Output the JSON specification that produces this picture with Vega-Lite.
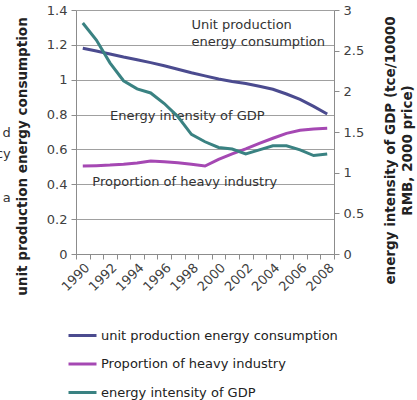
{
  "$schema": "https://vega.github.io/schema/vega-lite/v6.json",
  "width": 258,
  "height": 244,
  "autosize": {"type": "none"},
  "padding": {"left": 76, "top": 10, "right": 83, "bottom": 146},
  "background": "white",
  "config": {
    "view": {"stroke": null},
    "font": "DejaVu Sans",
    "axis": {"labelFont": "DejaVu Sans", "labelFontSize": 13, "labelColor": "#404040", "titleFont": "DejaVu Sans", "titleFontSize": 13.5, "titleFontWeight": "bold", "titleColor": "#222", "domainColor": "#8c8c8c", "tickColor": "#8c8c8c", "gridColor": "#a0a0a0", "tickSize": 5, "labelOverlap": false}
  },
  "datasets": {
    "series": [
      {"year": 1990, "series": "unit production energy consumption", "value": 1.18},
      {"year": 1991, "series": "unit production energy consumption", "value": 1.165},
      {"year": 1992, "series": "unit production energy consumption", "value": 1.148},
      {"year": 1993, "series": "unit production energy consumption", "value": 1.13},
      {"year": 1994, "series": "unit production energy consumption", "value": 1.115},
      {"year": 1995, "series": "unit production energy consumption", "value": 1.098},
      {"year": 1996, "series": "unit production energy consumption", "value": 1.08},
      {"year": 1997, "series": "unit production energy consumption", "value": 1.06},
      {"year": 1998, "series": "unit production energy consumption", "value": 1.04},
      {"year": 1999, "series": "unit production energy consumption", "value": 1.022},
      {"year": 2000, "series": "unit production energy consumption", "value": 1.004},
      {"year": 2001, "series": "unit production energy consumption", "value": 0.99},
      {"year": 2002, "series": "unit production energy consumption", "value": 0.978},
      {"year": 2003, "series": "unit production energy consumption", "value": 0.962},
      {"year": 2004, "series": "unit production energy consumption", "value": 0.945},
      {"year": 2005, "series": "unit production energy consumption", "value": 0.918},
      {"year": 2006, "series": "unit production energy consumption", "value": 0.887},
      {"year": 2007, "series": "unit production energy consumption", "value": 0.847},
      {"year": 2008, "series": "unit production energy consumption", "value": 0.803},
      {"year": 1990, "series": "Proportion of heavy industry", "value": 0.505},
      {"year": 1991, "series": "Proportion of heavy industry", "value": 0.507},
      {"year": 1992, "series": "Proportion of heavy industry", "value": 0.51},
      {"year": 1993, "series": "Proportion of heavy industry", "value": 0.515},
      {"year": 1994, "series": "Proportion of heavy industry", "value": 0.522},
      {"year": 1995, "series": "Proportion of heavy industry", "value": 0.533},
      {"year": 1996, "series": "Proportion of heavy industry", "value": 0.529},
      {"year": 1997, "series": "Proportion of heavy industry", "value": 0.523},
      {"year": 1998, "series": "Proportion of heavy industry", "value": 0.515},
      {"year": 1999, "series": "Proportion of heavy industry", "value": 0.505},
      {"year": 2000, "series": "Proportion of heavy industry", "value": 0.543},
      {"year": 2001, "series": "Proportion of heavy industry", "value": 0.574},
      {"year": 2002, "series": "Proportion of heavy industry", "value": 0.603},
      {"year": 2003, "series": "Proportion of heavy industry", "value": 0.635},
      {"year": 2004, "series": "Proportion of heavy industry", "value": 0.664},
      {"year": 2005, "series": "Proportion of heavy industry", "value": 0.692},
      {"year": 2006, "series": "Proportion of heavy industry", "value": 0.71},
      {"year": 2007, "series": "Proportion of heavy industry", "value": 0.717},
      {"year": 2008, "series": "Proportion of heavy industry", "value": 0.721},
      {"year": 1990, "series": "energy intensity of GDP", "value": 2.84},
      {"year": 1991, "series": "energy intensity of GDP", "value": 2.63},
      {"year": 1992, "series": "energy intensity of GDP", "value": 2.35},
      {"year": 1993, "series": "energy intensity of GDP", "value": 2.13},
      {"year": 1994, "series": "energy intensity of GDP", "value": 2.03},
      {"year": 1995, "series": "energy intensity of GDP", "value": 1.98},
      {"year": 1996, "series": "energy intensity of GDP", "value": 1.85},
      {"year": 1997, "series": "energy intensity of GDP", "value": 1.69},
      {"year": 1998, "series": "energy intensity of GDP", "value": 1.47},
      {"year": 1999, "series": "energy intensity of GDP", "value": 1.38},
      {"year": 2000, "series": "energy intensity of GDP", "value": 1.31},
      {"year": 2001, "series": "energy intensity of GDP", "value": 1.29},
      {"year": 2002, "series": "energy intensity of GDP", "value": 1.23},
      {"year": 2003, "series": "energy intensity of GDP", "value": 1.28},
      {"year": 2004, "series": "energy intensity of GDP", "value": 1.33},
      {"year": 2005, "series": "energy intensity of GDP", "value": 1.33},
      {"year": 2006, "series": "energy intensity of GDP", "value": 1.28},
      {"year": 2007, "series": "energy intensity of GDP", "value": 1.21},
      {"year": 2008, "series": "energy intensity of GDP", "value": 1.23}
    ],
    "notes": [
      {"year": 1998, "value": 1.314, "text": "Unit production"},
      {"year": 1998, "value": 1.216, "text": "energy consumption"},
      {"year": 1992, "value": 0.792, "text": "Energy intensity of GDP"}
    ],
    "notes2": [
      {"year": 1991, "value": 0.413, "text": "Proportion of heavy industry"}
    ],
    "fragments": [
      {"year": 1990, "value": 0.694, "text": "d"},
      {"year": 1990, "value": 0.574, "text": "cy"},
      {"year": 1990, "value": 0.321, "text": "a"}
    ]
  },
  "layer": [
    {
      "encoding": {
        "x": {"field": "year", "type": "ordinal", "bandPosition": 0.5, "scale": {"type": "band", "paddingInner": 0, "paddingOuter": 0},
          "axis": {"title": null, "tickBand": "extent", "labelAngle": -45, "labelExpr": "datum.value % 2 == 0 ? datum.label : ''", "grid": false, "labelPadding": 2}},
        "y": {"field": "value", "type": "quantitative", "scale": {"domain": [0, 1.4]},
          "axis": {"title": "unit production energy consumption", "values": [0, 0.2, 0.4, 0.6, 0.8, 1, 1.2, 1.4], "format": ".2~f", "grid": true, "labelPadding": 4, "titleY": 146, "titleX": -47}}
      },
      "layer": [
        {
          "data": {"name": "series"},
          "transform": [{"filter": "datum.series !== 'energy intensity of GDP'"}],
          "mark": {"type": "line", "strokeWidth": 3},
          "encoding": {
            "color": {"field": "series", "type": "nominal",
              "scale": {"domain": ["unit production energy consumption", "Proportion of heavy industry", "energy intensity of GDP"], "range": ["#4b4b8f", "#a548b3", "#3a8282"]},
              "legend": {"title": null, "orient": "none", "legendX": -9, "legendY": 310, "symbolType": "stroke", "symbolSize": 784, "symbolStrokeWidth": 3, "labelFont": "DejaVu Sans", "labelFontSize": 13, "labelColor": "#222", "labelOffset": 3, "rowPadding": 5.5, "labelLimit": 400}}
          }
        },
        {
          "data": {"name": "notes"},
          "mark": {"type": "text", "align": "left", "baseline": "middle", "fontSize": 13, "font": "DejaVu Sans", "color": "#333"},
          "encoding": {"text": {"field": "text"}}
        },
        {
          "data": {"name": "notes2"},
          "mark": {"type": "text", "align": "left", "baseline": "middle", "fontSize": 13, "font": "DejaVu Sans", "color": "#333", "dx": -4},
          "encoding": {"text": {"field": "text"}}
        },
        {
          "data": {"name": "fragments"},
          "mark": {"type": "text", "align": "right", "baseline": "middle", "fontSize": 13, "font": "DejaVu Sans", "color": "#333", "dx": -72},
          "encoding": {"text": {"field": "text"}}
        }
      ]
    },
    {
      "data": {"name": "series"},
      "transform": [{"filter": "datum.series === 'energy intensity of GDP'"}],
      "mark": {"type": "line", "strokeWidth": 3},
      "encoding": {
        "x": {"field": "year", "type": "ordinal", "bandPosition": 0.5},
        "y": {"field": "value", "type": "quantitative", "scale": {"domain": [0, 3]},
          "axis": {"orient": "right", "title": ["energy intensity of GDP (tce/10000", "RMB, 2000 price)"], "titleAngle": -90, "values": [0, 0.5, 1, 1.5, 2, 2.5, 3], "format": ".1~f", "grid": false, "labelPadding": 4, "titleY": 140, "titleX": 63, "titleLineHeight": 17}},
        "color": {"field": "series", "type": "nominal"}
      }
    }
  ],
  "resolve": {"scale": {"y": "independent"}}
}
